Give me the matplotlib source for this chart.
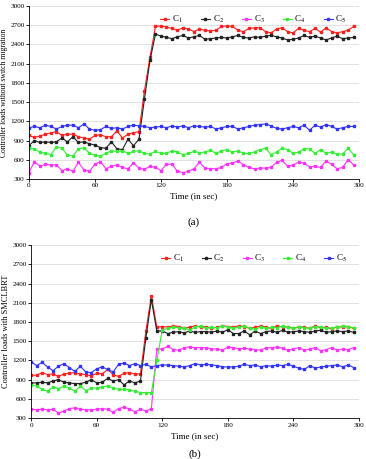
import matplotlib
matplotlib.use("Agg")
import matplotlib.pyplot as plt

plt.rcParams['font.family'] = ['Liberation Serif', 'DejaVu Serif']
plt.rcParams['mathtext.fontset'] = 'stix'

# sampling times (s)
t = list(range(0, 300, 5))

# (a) controller loads without switch migration
a_c1 = [980, 950, 970, 1000, 1020, 1040, 980, 1000, 1000, 960,
        940, 920, 980, 990, 960, 960, 1050, 940, 1000, 1020,
        1040, 1680, 2200, 2680, 2690, 2670, 2650, 2620, 2660, 2640,
        2600, 2640, 2620, 2610, 2620, 2680, 2690, 2680, 2620, 2600,
        2650, 2660, 2660, 2600, 2580, 2640, 2660, 2600, 2580, 2650,
        2620, 2600, 2650, 2590, 2660, 2600, 2580, 2600, 2620, 2680]
a_c2 = [820, 900, 870, 880, 870, 880, 940, 880, 960, 870,
        880, 850, 830, 790, 780, 880, 770, 760, 920, 820,
        920, 1550, 2150, 2560, 2530, 2510, 2490, 2520, 2540, 2500,
        2520, 2540, 2480, 2490, 2500, 2510, 2500, 2520, 2540, 2510,
        2500, 2520, 2510, 2530, 2540, 2520, 2500, 2470, 2480, 2500,
        2540, 2510, 2530, 2500, 2470, 2500, 2530, 2490, 2500, 2510]
a_c3 = [400, 570, 500, 530, 520, 520, 430, 460, 420, 560,
        440, 420, 530, 570, 460, 500, 520, 480, 460, 550,
        470, 450, 500, 480, 430, 530, 530, 420, 400, 420,
        460, 560, 470, 460, 460, 480, 540, 550, 580, 520,
        480, 460, 470, 470, 480, 560, 590, 500, 520, 560,
        550, 490, 500, 480, 580, 530, 460, 480, 600, 520]
a_c4 = [780, 770, 720, 700, 680, 800, 780, 670, 660, 770,
        790, 700, 670, 660, 700, 740, 730, 740, 700, 730,
        740, 700, 690, 730, 700, 700, 740, 720, 680, 700,
        730, 710, 720, 750, 700, 740, 760, 720, 740, 700,
        700, 720, 760, 780, 680, 720, 780, 760, 700, 720,
        770, 770, 700, 760, 700, 720, 690, 690, 780, 680]
a_c5 = [1100, 1120, 1100, 1140, 1120, 1080, 1120, 1140, 1140, 1100,
        1160, 1080, 1060, 1070, 1120, 1090, 1100, 1080, 1120, 1140,
        1130, 1120, 1100, 1110, 1120, 1100, 1130, 1110, 1130, 1100,
        1130, 1120, 1110, 1120, 1080, 1100, 1120, 1120, 1080, 1100,
        1120, 1140, 1150, 1160, 1130, 1090, 1080, 1100, 1120, 1100,
        1140, 1060, 1140, 1110, 1150, 1120, 1080, 1100, 1120, 1120]

# (b) controller loads with SMCLBRT
b_c1 = [970, 970, 1010, 980, 990, 950, 990, 1000, 1010, 990,
        980, 960, 1000, 990, 1060, 980, 950, 1000, 1010, 990,
        990, 1660, 2210, 1720, 1730, 1720, 1740, 1730, 1700, 1720,
        1740, 1720, 1730, 1700, 1720, 1740, 1730, 1720, 1740, 1730,
        1700, 1720, 1740, 1720, 1700, 1740, 1720, 1730, 1700, 1720,
        1720, 1700, 1740, 1710, 1720, 1690, 1730, 1720, 1730, 1700]
b_c2 = [850, 850, 860, 850, 880, 900, 860, 850, 840, 840,
        860, 900, 850, 860, 920, 880, 900, 820, 880, 850,
        880, 1550, 2150, 1660, 1660, 1620, 1640, 1650, 1630, 1660,
        1640, 1650, 1650, 1640, 1660, 1640, 1680, 1620, 1620, 1660,
        1600, 1660, 1620, 1650, 1660, 1640, 1670, 1640, 1650, 1660,
        1650, 1640, 1660, 1670, 1640, 1650, 1660, 1650, 1660, 1640]
b_c3 = [440, 430, 440, 430, 440, 380, 410, 450, 460, 440,
        430, 430, 440, 450, 440, 390, 450, 470, 440, 400,
        440, 410, 450, 1380, 1380, 1420, 1370, 1360, 1400, 1410,
        1400, 1400, 1400, 1380, 1380, 1360, 1410, 1400, 1380, 1390,
        1380, 1370, 1360, 1400, 1400, 1410, 1390, 1360, 1380, 1400,
        1360, 1380, 1400, 1350, 1370, 1400, 1360, 1380, 1370, 1400]
b_c4 = [820, 800, 750, 720, 790, 760, 800, 770, 720, 800,
        730, 770, 770, 790, 800, 770, 750, 750, 740, 720,
        700, 700, 700, 1200, 1680, 1700, 1720, 1710, 1700, 1680,
        1720, 1740, 1700, 1720, 1710, 1740, 1720, 1700, 1720, 1740,
        1700, 1690, 1720, 1700, 1720, 1710, 1740, 1720, 1700, 1730,
        1710, 1700, 1730, 1720, 1700, 1710, 1720, 1740, 1730, 1710]
b_c5 = [1180, 1120, 1170, 1100, 1040, 1110, 1150, 1090, 1030, 1110,
        1020, 1010, 1070, 1100, 1060, 1020, 1140, 1160, 1120, 1150,
        1120, 1140, 1100, 1120, 1130, 1130, 1120, 1110, 1100, 1120,
        1150, 1130, 1140, 1130, 1120, 1100, 1100, 1100, 1110, 1140,
        1120, 1130, 1100, 1120, 1110, 1130, 1120, 1140, 1110, 1080,
        1060, 1120, 1080, 1100, 1110, 1120, 1130, 1100, 1130, 1090]

labels = ['C$_1$', 'C$_2$', 'C$_3$', 'C$_4$', 'C$_5$']
colors = ['#ff2020', '#222222', '#ff33ff', '#33ee33', '#3333ff']
yticks = [300, 600, 900, 1200, 1500, 1800, 2100, 2400, 2700, 3000]

fig = plt.figure(figsize=(3.66, 4.59), dpi=100)
ax1 = fig.add_axes([0.079, 0.610, 0.902, 0.377])
ax2 = fig.add_axes([0.085, 0.089, 0.896, 0.377])


def draw(ax, series, ylabel, tag, tag_y, ylsize):
    for s, c, lab in zip(series, colors, labels):
        ax.plot(t, s, color=c, lw=0.8, marker='s', ms=1.6, label=lab)
    ax.set_xlim(0, 300)
    ax.set_ylim(300, 3000)
    ax.set_xticks([0, 60, 120, 180, 240, 300])
    ax.set_yticks(yticks)
    ax.tick_params(labelsize=5.2, length=2, width=0.6, pad=1.2)
    ax.grid(axis='y', color='#dddddd', lw=0.6)
    ax.set_axisbelow(True)
    for sp in ['top', 'right']:
        ax.spines[sp].set_visible(False)
    for sp in ['left', 'bottom']:
        ax.spines[sp].set_linewidth(0.6)
    ax.set_xlabel('Time (in sec)', fontsize=6.5, labelpad=3)
    ax.set_ylabel(ylabel, fontsize=ylsize, labelpad=1.5)
    ax.legend(loc='upper center', bbox_to_anchor=(0.68, 1.0), ncol=5, frameon=False,
              fontsize=6.5, handlelength=1.0, handletextpad=0.3, columnspacing=2.0,
              markerscale=1.2)
    ax.text(0.5, tag_y, tag, transform=ax.transAxes, ha='center', va='center', fontsize=8)


draw(ax1, [a_c1, a_c2, a_c3, a_c4, a_c5], 'Controller loads without switch migration', '(a)', -0.25, 5.5)
draw(ax2, [b_c1, b_c2, b_c3, b_c4, b_c5], 'Controller loads with SMCLBRT', '(b)', -0.21, 6)

fig.savefig('out.png', dpi=100)
